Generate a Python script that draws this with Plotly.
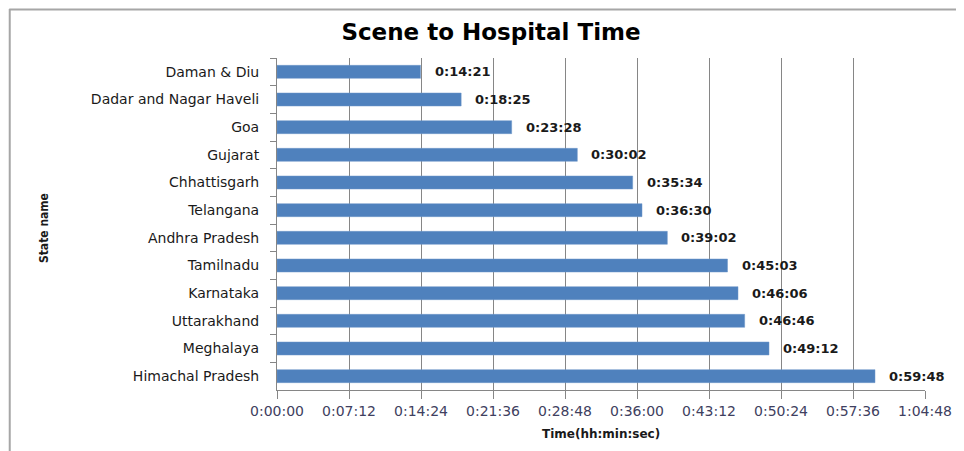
import plotly.graph_objects as go

# data (top to bottom as drawn)
states = ["Daman & Diu", "Dadar and Nagar Haveli", "Goa", "Gujarat", "Chhattisgarh",
          "Telangana", "Andhra Pradesh", "Tamilnadu", "Karnataka", "Uttarakhand",
          "Meghalaya", "Himachal Pradesh"]
times = ["0:14:21", "0:18:25", "0:23:28", "0:30:02", "0:35:34", "0:36:30",
         "0:39:02", "0:45:03", "0:46:06", "0:46:46", "0:49:12", "0:59:48"]
tick_labels = ["0:00:00", "0:07:12", "0:14:24", "0:21:36", "0:28:48",
               "0:36:00", "0:43:12", "0:50:24", "0:57:36", "1:04:48"]


def to_sec(t):
    h, m, s = t.split(":")
    return int(h) * 3600 + int(m) * 60 + int(s)


secs = [to_sec(t) for t in times]
tick_vals = [to_sec(t) for t in tick_labels]

# the page body has an 8px margin, so the figure is drawn 8px in and down
OFF = 8
W, H = 964 - OFF, 451 - OFF
L, R, T, B = 277 - OFF, 36, 58 - OFF, 61
pw, ph = W - L - R, H - T - B


def px(x):  # page pixel x -> paper x
    return (x - OFF - L) / pw


def py(y):  # page pixel y -> paper y
    return (H - B - (y - OFF)) / ph


fig = go.Figure()
fig.add_trace(go.Bar(
    x=secs, y=states, orientation="h",
    marker=dict(color="#4F81BD", line=dict(color="#6E97C8", width=0.5)),
    width=0.47, hoverinfo="skip",
))

for st, s, t in zip(states, secs, times):
    fig.add_annotation(x=s, y=st, text=t, showarrow=False, xanchor="left",
                       xshift=12, font=dict(family="DejaVu Sans", size=13,
                                            color="#1a1a1a", weight="bold"))

# frame round the chart (top and left edges only are visible)
fig.add_shape(type="line", xref="paper", yref="paper",
              x0=px(8), x1=px(964), y0=py(9.5), y1=py(9.5),
              line=dict(color="#a6a6a6", width=2))
fig.add_shape(type="line", xref="paper", yref="paper",
              x0=px(8.5), x1=px(8.5), y0=py(9), y1=py(451),
              line=dict(color="#a6a6a6", width=2))

fig.add_annotation(xref="paper", yref="paper", x=px(602), y=py(434),
                   xanchor="center", yanchor="middle",
                   text="<b>Time(hh:min:sec)</b>", showarrow=False,
                   font=dict(family="DejaVu Sans", size=12, color="#1a1a1a"))
fig.add_annotation(xref="paper", yref="paper", x=px(43), y=py(228), textangle=-90,
                   xanchor="center", yanchor="middle",
                   text="<b>State name</b>", showarrow=False,
                   font=dict(family="DejaVu Sans Condensed, Liberation Sans",
                             size=12, color="#1a1a1a"))

fig.update_layout(
    width=W, height=H,
    margin=dict(l=L, r=R, t=T, b=B, pad=0),
    paper_bgcolor="white", plot_bgcolor="white",
    showlegend=False,
    title=dict(text="<b>Scene to Hospital Time</b>", xref="container",
               x=(491 - OFF) / W, xanchor="center",
               y=1 - (32 - OFF) / H, yanchor="middle",
               font=dict(family="DejaVu Sans", size=23, color="black")),
    xaxis=dict(range=[0, tick_vals[-1]], tickvals=tick_vals, ticktext=tick_labels,
               showgrid=True, gridcolor="#868686", gridwidth=1,
               showline=True, linecolor="#868686", linewidth=1,
               ticks="outside", ticklen=8, tickcolor="#868686",
               zeroline=False,
               tickfont=dict(family="DejaVu Sans", size=14, color="#404060")),
    yaxis=dict(autorange="reversed", showgrid=False,
               showline=True, linecolor="#868686", linewidth=1,
               ticks="outside", ticklen=6, tickcolor="#868686",
               tickson="boundaries", ticklabelstandoff=14,
               tickfont=dict(family="DejaVu Sans", size=14, color="#1a1a1a")),
)

fig.write_html("out.html")
